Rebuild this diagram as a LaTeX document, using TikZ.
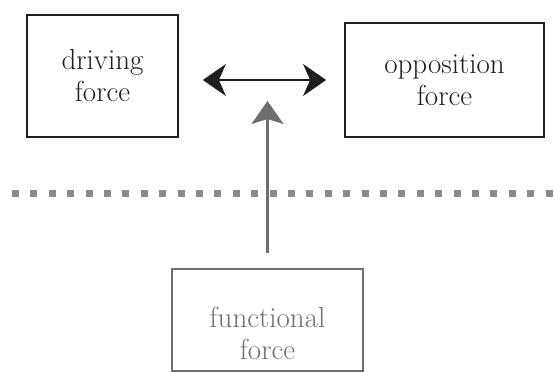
\documentclass[tikz,border=0pt]{standalone}
\usetikzlibrary{arrows.meta}
\definecolor{boxblack}{HTML}{1E1E1E}
\definecolor{ffgray}{HTML}{6E6E6E}
\definecolor{dotgray}{HTML}{8A8A8A}
\begin{document}
\begin{tikzpicture}[x=1pt,y=-1pt,line width=1.8pt,
  every node/.style={font=\fontsize{29}{32}\selectfont,align=center,inner sep=0pt},
  forcebox/.style={draw=boxblack,text=boxblack},
  ffbox/.style={draw=ffgray,line width=1.5pt}]
\useasboundingbox (0,0) rectangle (555,372);
\node[forcebox,minimum width=151,minimum height=122] (drive) at (102.5,76) {driving\\force};
\node[forcebox,minimum width=199,minimum height=114] (oppo) at (444.5,80) {opposition\\force};
\node[ffbox,minimum width=191,minimum height=102] (func) at (267.5,320) {};
\node[text=ffgray] (funclabel) at (267.5,333) {functional\\force};
\coordinate (fftip) at (267.5,101);
\draw[dotgray,line width=7pt,dash pattern=on 7pt off 11.4pt] (12,193) -- (555,193);
\draw[boxblack,{Stealth[length=23pt,width=32pt,inset=7pt]}-{Stealth[length=23pt,width=32pt,inset=7pt]},
  shorten <=24pt,shorten >=18pt] (drive.east |- oppo.west) -- (oppo.west);
\draw[ffgray,line width=2.2pt,-{Stealth[length=23pt,width=32pt,inset=5pt]},shorten <=15pt] (func.north) -- (fftip);
\end{tikzpicture}
\end{document}
